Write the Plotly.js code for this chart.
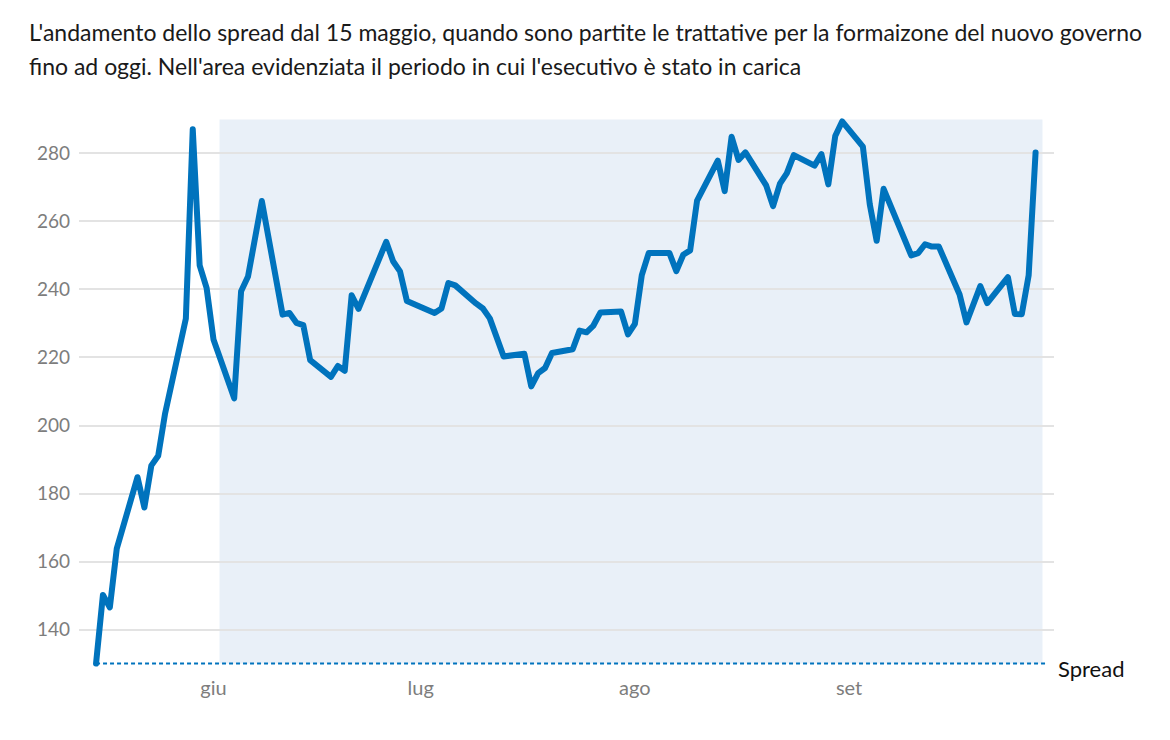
<!DOCTYPE html>
<html>
<head>
<meta charset="utf-8">
<script src="https://cdn.plot.ly/plotly-3.0.1.min.js"></script>
<style>
  html, body { margin: 0; padding: 0; background: #ffffff; }
  #chart { width: 1170px; height: 740px; }
  .scatterlayer .js-line { stroke-linejoin: round; stroke-linecap: round; }
</style>
</head>
<body>
<div id="chart"></div>
<script>
// ---- data ----
const dates = [
  "2018-05-15","2018-05-16","2018-05-17","2018-05-18","2018-05-21","2018-05-22","2018-05-23","2018-05-24","2018-05-25",
  "2018-05-28","2018-05-29","2018-05-30","2018-05-31","2018-06-01",
  "2018-06-04","2018-06-05","2018-06-06","2018-06-08",
  "2018-06-11","2018-06-12","2018-06-13","2018-06-14","2018-06-15",
  "2018-06-18","2018-06-19","2018-06-20","2018-06-21","2018-06-22",
  "2018-06-26","2018-06-27","2018-06-28","2018-06-29",
  "2018-07-03","2018-07-04","2018-07-05","2018-07-06",
  "2018-07-09","2018-07-10","2018-07-11","2018-07-13",
  "2018-07-16","2018-07-17","2018-07-18","2018-07-19","2018-07-20",
  "2018-07-23","2018-07-24","2018-07-25","2018-07-26","2018-07-27",
  "2018-07-30","2018-07-31","2018-08-01","2018-08-02","2018-08-03",
  "2018-08-06","2018-08-07","2018-08-08","2018-08-09","2018-08-10",
  "2018-08-13","2018-08-14","2018-08-15","2018-08-16","2018-08-17",
  "2018-08-20","2018-08-21","2018-08-22","2018-08-23","2018-08-24",
  "2018-08-27","2018-08-28","2018-08-29","2018-08-30","2018-08-31",
  "2018-09-03","2018-09-04","2018-09-05","2018-09-06",
  "2018-09-10","2018-09-11","2018-09-12","2018-09-13","2018-09-14",
  "2018-09-17","2018-09-18","2018-09-20","2018-09-21",
  "2018-09-24","2018-09-25","2018-09-26","2018-09-27","2018-09-28"
];
const spread = [
  130.0,150.2,146.5,163.8,184.8,175.9,188.2,191.1,203.6,
  231.4,287.1,247.1,240.5,225.3,
  208.0,239.5,243.8,266.0,
  232.6,233.1,230.2,229.5,219.2,
  214.3,217.5,216.1,238.3,234.3,
  254.0,248.3,245.3,236.6,
  233.1,234.4,241.9,241.2,
  235.9,234.4,231.5,220.3,
  221.1,211.5,215.4,216.9,221.3,
  222.4,227.9,227.4,229.4,233.2,
  233.5,226.8,229.9,244.2,250.7,
  250.7,245.4,250.2,251.5,266.1,
  277.9,268.9,284.9,278.1,280.3,
  270.6,264.5,271.1,274.2,279.5,
  276.4,279.8,270.9,285.1,289.4,
  282.0,265.0,254.3,269.6,
  250.0,250.7,253.3,252.6,252.6,
  238.5,230.3,241.0,236.0,
  243.6,232.8,232.7,244.2,280.3
];
const yTicks = [140,160,180,200,220,240,260,280];
const monthTicks = ["2018-06-01","2018-07-01","2018-08-01","2018-09-01"];
const monthLabels = ["giu","lug","ago","set"];
const seriesName = "Spread";
const titleLines = [
  "L'andamento dello spread dal 15 maggio, quando sono partite le trattative per la formaizone del nuovo governo",
  "fino ad oggi. Nell'area evidenziata il periodo in cui l'esecutivo è stato in carica"
];
const govStart = "2018-06-01 21:00";
const govEnd = "2018-09-29 00:00";

// ---- chart ----
const FONT = "Lato, 'Open Sans', sans-serif";
const lineColor = "#0073bd";
const tickColor = "#7d7d7d";

const trace = {
  x: dates, y: spread, type: "scatter", mode: "lines",
  name: seriesName,
  line: { color: lineColor, width: 6 },
  hoverinfo: "x+y"
};

const layout = {
  width: 1170, height: 740,
  margin: { l: 79, r: 116, t: 116, b: 73 },
  paper_bgcolor: "#ffffff", plot_bgcolor: "#ffffff",
  showlegend: false,
  font: { family: FONT, color: tickColor, size: 19 },
  xaxis: {
    type: "date",
    range: ["2018-05-12 12:49", "2018-09-30 16:00"],
    tickmode: "array", tickvals: monthTicks, ticktext: monthLabels,
    showgrid: false, zeroline: false, showline: false, ticks: "",
    ticklabelstandoff: 7,
    tickfont: { family: FONT, size: 20, color: tickColor }
  },
  yaxis: {
    range: [129, 291],
    tickmode: "array", tickvals: yTicks,
    showgrid: true, gridcolor: "#e3e3e3", gridwidth: 2,
    zeroline: false, showline: false, ticks: "",
    ticklabelstandoff: 8,
    tickfont: { family: FONT, size: 19, color: tickColor }
  },
  shapes: [
    { type: "rect", xref: "x", yref: "y", x0: govStart, x1: govEnd, y0: 130, y1: 290,
      fillcolor: "#e9f0f8", line: { width: 0 }, layer: "below" },
    { type: "line", xref: "x", yref: "y", x0: dates[0], x1: "2018-09-29 15:00", y0: 130, y1: 130,
      line: { color: lineColor, width: 2, dash: "4px,3px" }, layer: "below" }
  ],
  annotations: [
    { text: seriesName, xref: "paper", yref: "y", x: 1.002, y: 130, xanchor: "left", yanchor: "middle",
      yshift: -5, showarrow: false, font: { family: FONT, size: 22, color: "#111111" } },
    { text: titleLines[0], xref: "paper", yref: "paper", x: (27 - 79) / 975, y: (667 - 32) / 551,
      xanchor: "left", yanchor: "middle", showarrow: false, align: "left",
      font: { family: FONT, size: 23, color: "#1a1a1a" } },
    { text: titleLines[1], xref: "paper", yref: "paper", x: (27 - 79) / 975, y: (667 - 66) / 551,
      xanchor: "left", yanchor: "middle", showarrow: false, align: "left",
      font: { family: FONT, size: 23, color: "#1a1a1a" } }
  ]
};

Plotly.newPlot("chart", [trace], layout, { displayModeBar: false, staticPlot: true });
</script>
</body>
</html>
